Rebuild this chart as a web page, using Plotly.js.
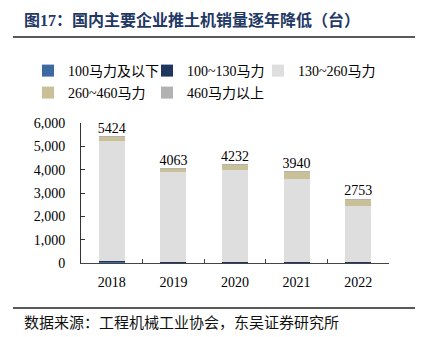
<!DOCTYPE html>
<html>
<head>
<meta charset="utf-8">
<script src="https://cdn.plot.ly/plotly-3.0.1.min.js"></script>
<style>html,body{margin:0;padding:0;background:#fff;}#chart{width:424px;height:337px;}</style>
</head>
<body>
<div id="chart"></div>
<script>
const years = ['2018', '2019', '2020', '2021', '2022'];
const seriesNames = ['100马力及以下', '100~130马力', '130~260马力', '260~460马力', '460马力以上'];
const seriesColors = ['#3E69A0', '#1F3660', '#DEDEDE', '#C9C097', '#B2B2B2'];
const hp100Below = [30, 20, 20, 20, 15];
const hp100to130 = [60, 30, 30, 25, 25];
const hp130to260 = [5134, 3843, 3947, 3540, 2388];
const hp260to460 = [180, 155, 205, 310, 280];
const hp460Above = [20, 15, 30, 45, 45];
const totals = [5424, 4063, 4232, 3940, 2753];
const yTicks = [0, 1000, 2000, 3000, 4000, 5000, 6000];

const FONT = '"Times New Roman", "Liberation Serif", "Noto Sans CJK SC", serif';
const seriesValues = [hp100Below, hp100to130, hp130to260, hp260to460, hp460Above];
const legendIds = ['legend', 'legend2', 'legend3', 'legend4', 'legend5'];

const traces = seriesValues.map((vals, i) => ({
  type: 'bar',
  name: seriesNames[i],
  legend: legendIds[i],
  x: years,
  y: vals,
  marker: {color: seriesColors[i], line: {width: 0}},
  hoverinfo: 'x+y+name'
}));
traces.push({
  type: 'scatter',
  mode: 'text',
  x: years,
  y: totals,
  text: totals.map(String),
  textposition: 'top center',
  textfont: {family: FONT, size: 14, color: '#000'},
  showlegend: false,
  hoverinfo: 'skip',
  cliponaxis: false
});

// legend box left edges (px) and top edges (px)
const legLeft = [28, 147, 258, 28, 147];
const legTop = [55, 55, 55, 77, 77];
function legendBox(i) {
  return {
    orientation: 'h',
    x: (legLeft[i] - 81) / 308, xanchor: 'left',
    y: 1 + (123 - legTop[i]) / 140, yanchor: 'top',
    font: {family: FONT, size: 14, color: '#000'},
    itemwidth: 30,
    bgcolor: 'rgba(0,0,0,0)',
    borderwidth: 0
  };
}

const layout = {
  width: 424,
  height: 337,
  margin: {l: 81, r: 35, t: 123, b: 74},
  paper_bgcolor: '#fff',
  plot_bgcolor: '#fff',
  barmode: 'stack',
  bargap: 0.58,
  font: {family: FONT, size: 14, color: '#000'},
  showlegend: true,
  legend: legendBox(0),
  legend2: legendBox(1),
  legend3: legendBox(2),
  legend4: legendBox(3),
  legend5: legendBox(4),
  xaxis: {
    type: 'category',
    showgrid: false,
    zeroline: false,
    showline: true,
    linecolor: '#444',
    linewidth: 1,
    ticks: 'inside',
    tickson: 'boundaries',
    ticklen: 4,
    tickcolor: '#444',
    ticklabelstandoff: 6,
    tickfont: {family: FONT, size: 14, color: '#000'}
  },
  yaxis: {
    range: [0, 6000],
    tickvals: yTicks,
    tickformat: ',',
    showgrid: false,
    zeroline: false,
    showline: true,
    linecolor: '#333',
    linewidth: 1,
    ticks: 'inside',
    ticklen: 4,
    tickcolor: '#333',
    ticklabelstandoff: 12,
    tickfont: {family: FONT, size: 14, color: '#000'}
  },
  title: {text: ''},
  shapes: [
    {type: 'line', xref: 'paper', yref: 'paper', x0: -68/308, x1: 334/308, y0: 226/140, y1: 226/140, line: {color: '#222', width: 1.6}},
    {type: 'line', xref: 'paper', yref: 'paper', x0: -68/308, x1: 334/308, y0: -45/140, y1: -45/140, line: {color: '#222', width: 1.6}}
  ],
  annotations: [
    {text: '<b>图17：国内主要企业推土机销量逐年降低（台）</b>', xref: 'paper', yref: 'paper', x: -59/308, y: 243/140, xanchor: 'left', yanchor: 'middle', showarrow: false, font: {family: FONT, size: 16, color: '#1F3864'}},
    {text: '数据来源：工程机械工业协会，东吴证券研究所', xref: 'paper', yref: 'paper', x: -59/308, y: -60/140, xanchor: 'left', yanchor: 'middle', showarrow: false, font: {family: FONT, size: 15, color: '#111'}}
  ]
};

Plotly.newPlot('chart', traces, layout, {displayModeBar: false, staticPlot: true});
</script>
</body>
</html>
